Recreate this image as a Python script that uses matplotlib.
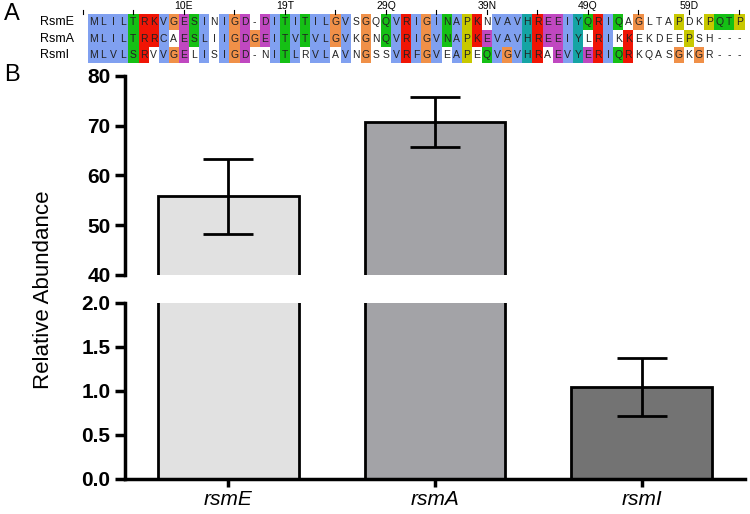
import matplotlib.pyplot as plt
from matplotlib.patches import Rectangle

plt.rcParams['font.family'] = 'Liberation Sans'

# Panel A: alignment
names = ['RsmE', 'RsmA', 'RsmI']
seqs = ['MLILTRKVGESINIGD-DITITILGVSGQQVRIGINAPKNVAVHREEIYQRIQAGLTAPDKPQTP',
        'MLILTRRCAESLIIGDGEITVTVLGVKGNQVRIGVNAPKEVAVHREEIYLRIKKEKDEEPSH---',
        'MLVLSRVVGELISIGD-NITLRVLAVNGSSVRFGVEAPEQVGVHRAEVYERIQRKQASGKGR---']
pos_labels = {10: '10E', 20: '19T', 30: '29Q', 40: '39N', 50: '49Q', 60: '59D'}

# Panel B: bars with broken axis
genes = ['rsmE', 'rsmA', 'rsmI']
abundance = [55.8, 70.8, 1.05]
err = [7.6, 5.0, 0.33]
bar_colors = ['#e1e1e1', '#a3a3a7', '#737373']

HYD = set('ACILMFWV')


def residue_color(res, col):
    n = len(col)
    frac = lambda s: sum(c in s for c in col) / n
    if res == 'G':
        return '#f09048'
    if res == 'P':
        return '#c8c800'
    if res in HYD and frac(HYD) > 0.6:
        return '#80a0f0'
    if res in 'KR' and frac('KR') > 0.6:
        return '#f01505'
    if res in 'ED' and (frac('ED') > 0.5 or frac('QE') > 0.5):
        return '#c048c0'
    if res == 'N' and frac('N') > 0.5:
        return '#15c015'
    if res == 'Q' and frac('QE') > 0.5:
        return '#15c015'
    if res in 'ST' and (frac('ST') > 0.5 or frac(HYD) > 0.5):
        return '#15c015'
    if res in 'HY' and frac(HYD | set('HY')) > 0.6:
        return '#15a4a4'
    return None


fig = plt.figure(figsize=(7.5, 5.14), dpi=100)

axa = fig.add_axes([0, 1 - 70 / 514, 1, 70 / 514])
axa.set_xlim(0, 750)
axa.set_ylim(70, 0)
axa.axis('off')
x0, cw = 88, 10.1
row_y = [22, 38.5, 55]
ncol = len(seqs[0])
for j in range(ncol):
    col = [s[j] for s in seqs if s[j] != '-']
    for i, s in enumerate(seqs):
        r = s[j]
        c = residue_color(r, col) if r != '-' else None
        if c:
            axa.add_patch(Rectangle((x0 + j * cw, row_y[i] - 8.2), cw, 16.4, color=c, lw=0))
        axa.text(x0 + (j + 0.5) * cw, row_y[i], r, ha='center', va='center', fontsize=7.5, color='#222222')
    if (j + 1) % 5 == 0:
        xc = x0 + (j + 0.5) * cw
        axa.plot([xc, xc], [10, 14], color='black', lw=0.8)
        if (j + 1) in pos_labels:
            axa.text(xc, 6, pos_labels[j + 1], ha='center', va='center', fontsize=7.5)
axa.plot([83, 83], [10, 14], color='black', lw=0.8)
for i, nm in enumerate(names):
    axa.text(40, row_y[i], nm, ha='left', va='center', fontsize=9)
fig.text(0.005, 1 - 14 / 514, 'A', fontsize=17, va='center')
fig.text(0.005, 1 - 75 / 514, 'B', fontsize=17, va='center')

left, width = 125 / 750, 620 / 750
ax_top = fig.add_axes([left, 1 - 275 / 514, width, 199 / 514])
ax_bot = fig.add_axes([left, 1 - 479 / 514, width, 176 / 514])
xs = range(len(genes))
for ax in (ax_top, ax_bot):
    ax.bar(xs, abundance, width=0.68, color=bar_colors, edgecolor='black', linewidth=2, zorder=2)
    ax.errorbar(xs, abundance, yerr=err, fmt='none', ecolor='black', elinewidth=2, capsize=18, capthick=2, zorder=3)
    ax.set_xlim(-0.5, 2.5)
    for sp in ('top', 'right'):
        ax.spines[sp].set_visible(False)
    ax.spines['left'].set_linewidth(2.5)
    ax.tick_params(axis='y', width=2.5, length=7, labelsize=15)
    for t in ax.get_yticklabels():
        t.set_fontweight('bold')

ax_top.set_ylim(40, 80)
ax_top.set_yticks([40, 50, 60, 70, 80])
ax_top.spines['bottom'].set_visible(False)
ax_top.set_xticks([])
ax_bot.set_ylim(0, 2.0)
ax_bot.set_yticks([0.0, 0.5, 1.0, 1.5, 2.0])
ax_bot.set_yticklabels(['0.0', '0.5', '1.0', '1.5', '2.0'], fontweight='bold')
ax_bot.spines['bottom'].set_linewidth(2.5)
ax_bot.set_xticks(list(xs))
ax_bot.set_xticklabels(genes, fontsize=15, style='italic')
ax_bot.tick_params(axis='x', width=2.5, length=6, pad=2)
fig.text(0.058, 1 - 290 / 514, 'Relative Abundance', rotation=90, ha='center', va='center', fontsize=16)

fig.savefig('out.png', dpi=100)
